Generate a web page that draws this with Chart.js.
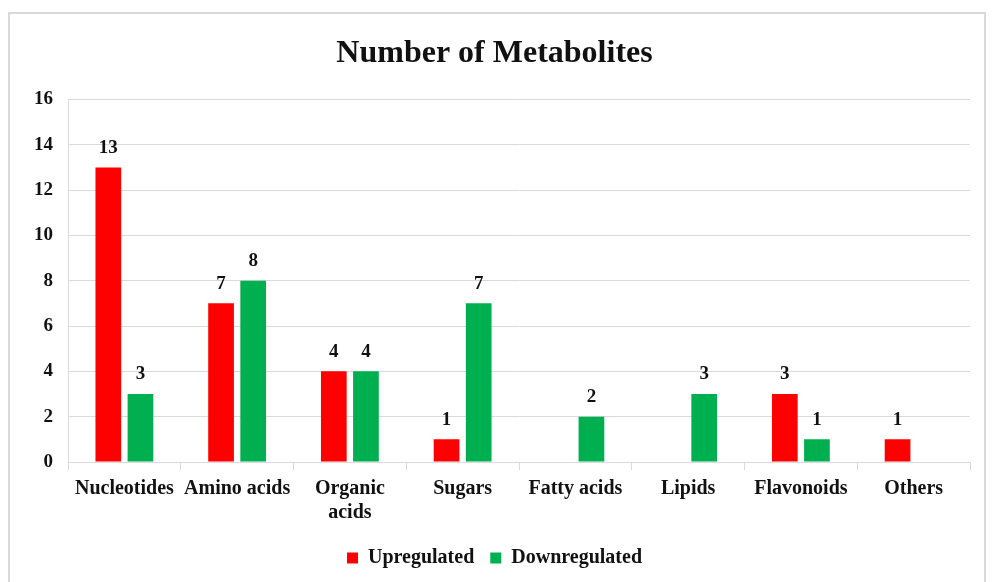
<!DOCTYPE html>
<html>
<head>
<meta charset="utf-8">
<script src="https://cdn.jsdelivr.net/npm/chart.js@4"></script>
<style>
  body { margin: 0; background: #fff; }
  #wrap { width: 992px; height: 582px; position: relative; }
</style>
</head>
<body>
<div id="wrap"><canvas id="myChart" width="992" height="582"></canvas></div>
<script>
  // categories and values
  const categories = ['Nucleotides', 'Amino acids', ['Organic', 'acids'], 'Sugars', 'Fatty acids', 'Lipids', 'Flavonoids', 'Others'];
  const upregulated = [13, 7, 4, 1, null, null, 3, 1];
  const downregulated = [3, 8, 4, 7, 2, 3, 1, null];
  const yTicks = [0, 2, 4, 6, 8, 10, 12, 14, 16];

  const serif = '"Liberation Serif", "Times New Roman", serif';

  // light gray frame round the whole chart
  const framePlugin = {
    id: 'frame',
    beforeDraw(chart) {
      const ctx = chart.ctx;
      ctx.save();
      ctx.strokeStyle = '#d9d9d9';
      ctx.lineWidth = 2;
      ctx.strokeRect(9, 13, 976, 600);
      ctx.restore();
    }
  };

  // numbers above each bar
  const valueLabels = {
    id: 'valueLabels',
    afterDatasetsDraw(chart) {
      const ctx = chart.ctx;
      ctx.save();
      ctx.font = 'bold 19px ' + serif;
      ctx.fillStyle = '#111';
      ctx.textAlign = 'center';
      ctx.textBaseline = 'bottom';
      chart.data.datasets.forEach((ds, i) => {
        chart.getDatasetMeta(i).data.forEach((bar, j) => {
          if (ds.data[j] == null) return;
          ctx.fillText(ds.data[j], bar.x, bar.y - 10);
        });
      });
      ctx.restore();
    }
  };

  var canvas = document.getElementById('myChart');
  chart = new Chart(canvas, {
    type: 'bar',
    data: {
      labels: categories,
      datasets: [
        { label: 'Upregulated', data: upregulated, backgroundColor: '#ff0000',
          barPercentage: 0.8, categoryPercentage: 0.57 },
        { label: 'Downregulated', data: downregulated, backgroundColor: '#00b050',
          barPercentage: 0.8, categoryPercentage: 0.57 }
      ]
    },
    options: {
      responsive: false,
      animation: false,
      layout: { padding: { left: 19, right: 22, top: 10, bottom: 4 } },
      plugins: {
        title: {
          display: true,
          text: 'Number of Metabolites',
          color: '#111',
          font: { family: serif, size: 32, weight: 'bold' },
          padding: { top: 25, bottom: 26 }
        },
        legend: {
          position: 'bottom',
          labels: {
            color: '#111',
            font: { family: serif, size: 20, weight: 'bold' },
            boxWidth: 11, boxHeight: 11,
            padding: 16
          }
        },
        tooltip: { enabled: false }
      },
      scales: {
        x: {
          grid: { display: true, drawOnChartArea: false, drawTicks: true, tickLength: 8, color: '#d9d9d9', offset: true },
          border: { color: '#d9d9d9' },
          ticks: { color: '#111', font: { family: serif, size: 20, weight: 'bold' }, padding: 7, maxRotation: 0, autoSkip: false }
        },
        y: {
          min: 0, max: 16,
          afterBuildTicks(axis) { axis.ticks = yTicks.map(v => ({ value: v })); },
          grid: { color: '#d9d9d9', drawTicks: false },
          border: { color: '#d9d9d9' },
          ticks: { color: '#111', font: { family: serif, size: 19, weight: 'bold' }, padding: 15 }
        }
      }
    },
    plugins: [framePlugin, valueLabels]
  });
</script>
</body>
</html>
